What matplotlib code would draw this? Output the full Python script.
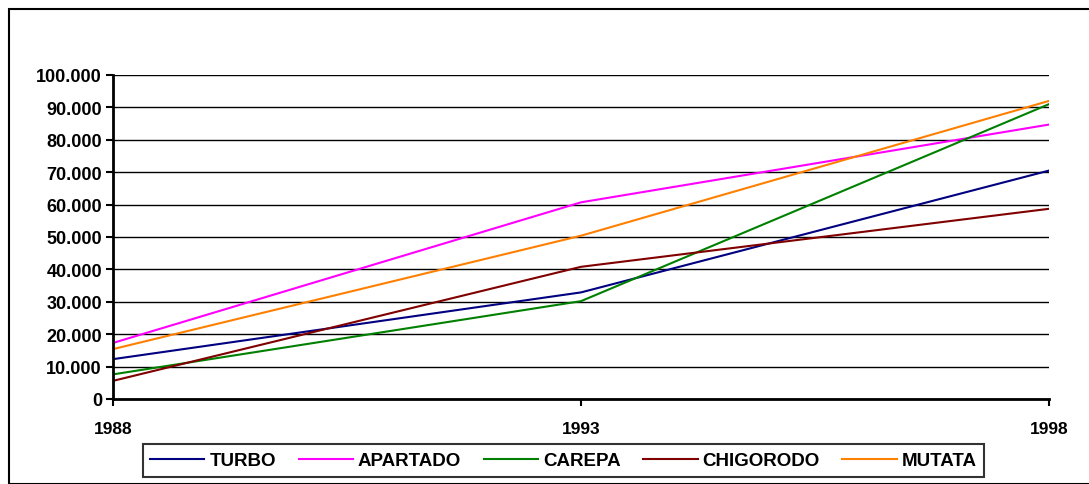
import matplotlib.pyplot as plt
from matplotlib.patches import Rectangle
from matplotlib.ticker import FuncFormatter

# --- Datos: poblacion por municipio ---
years = [1988, 1993, 1998]
turbo = [12300, 32900, 70500]
apartado = [17300, 60700, 84700]
carepa = [7600, 30200, 91000]
chigorodo = [5600, 40800, 58700]
mutata = [15400, 50400, 92000]

series = [
    ('TURBO', turbo, '#000080'),
    ('APARTADO', apartado, '#FF00FF'),
    ('CAREPA', carepa, '#008000'),
    ('CHIGORODO', chigorodo, '#800000'),
    ('MUTATA', mutata, '#FF8000'),
]

plt.rcParams['font.family'] = ['Liberation Sans', 'DejaVu Sans']

W, H = 1089, 485
fig = plt.figure(figsize=(W / 100, H / 100), dpi=100)

# marco exterior del grafico
fig.patches.append(Rectangle((9 / W, 0), 1.2, 1 - 10 / H, transform=fig.transFigure,
                             fill=False, edgecolor='black', linewidth=1.5))

ax = fig.add_axes([113 / W, 1 - 400 / H, (1049 - 113) / W, (400 - 76) / H])

for name, vals, color in series:
    ax.plot(years, vals, color=color, linewidth=1.5, label=name)

ax.set_xlim(1988, 1998)
ax.set_ylim(0, 100000)
ax.set_xticks(years)
ax.set_yticks(range(0, 100001, 10000))
ax.yaxis.set_major_formatter(FuncFormatter(lambda v, p: f'{int(v):,}'.replace(',', '.')))
ax.grid(axis='y', color='black', linewidth=1)
ax.set_axisbelow(True)

for s in ['top', 'right']:
    ax.spines[s].set_visible(False)
for s in ['left', 'bottom']:
    ax.spines[s].set_linewidth(2)

ax.tick_params(axis='y', length=5, width=1.5, labelsize=13, pad=3)
ax.tick_params(axis='x', length=5, width=1.5, labelsize=12.5, pad=11)
for lbl in ax.get_xticklabels() + ax.get_yticklabels():
    lbl.set_fontweight('bold')

leg = fig.legend(loc='center', bbox_to_anchor=(563.5 / W, 1 - 461.5 / H), ncol=5,
                 frameon=True, fancybox=False, edgecolor='black', handlelength=2.9,
                 handletextpad=0.27, columnspacing=1.2, borderpad=0.4,
                 prop={'weight': 'bold', 'size': 13.5})
leg.get_frame().set_linewidth(1.5)

plt.savefig('out.png', dpi=100)
